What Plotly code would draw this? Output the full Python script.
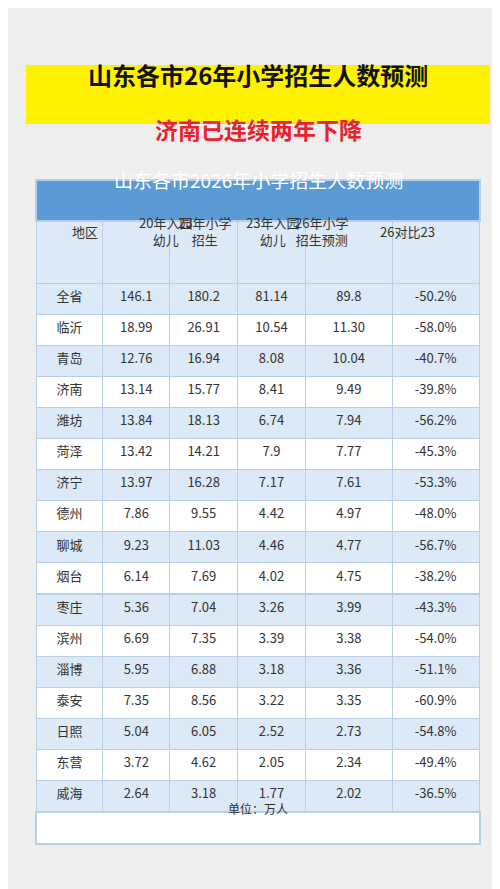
import plotly.graph_objects as go

regions = ["全省", "临沂", "青岛", "济南", "潍坊", "菏泽", "济宁", "德州", "聊城", "烟台",
           "枣庄", "滨州", "淄博", "泰安", "日照", "东营", "威海"]
kids20 = ["146.1", "18.99", "12.76", "13.14", "13.84", "13.42", "13.97", "7.86", "9.23", "6.14",
          "5.36", "6.69", "5.95", "7.35", "5.04", "3.72", "2.64"]
primary23 = ["180.2", "26.91", "16.94", "15.77", "18.13", "14.21", "16.28", "9.55", "11.03", "7.69",
             "7.04", "7.35", "6.88", "8.56", "6.05", "4.62", "3.18"]
kids23 = ["81.14", "10.54", "8.08", "8.41", "6.74", "7.9", "7.17", "4.42", "4.46", "4.02",
          "3.26", "3.39", "3.18", "3.22", "2.52", "2.05", "1.77"]
primary26 = ["89.8", "11.30", "10.04", "9.49", "7.94", "7.77", "7.61", "4.97", "4.77", "4.75",
             "3.99", "3.38", "3.36", "3.35", "2.73", "2.34", "2.02"]
change = ["-50.2%", "-58.0%", "-40.7%", "-39.8%", "-56.2%", "-45.3%", "-53.3%", "-48.0%", "-56.7%",
          "-38.2%", "-43.3%", "-54.0%", "-51.1%", "-60.9%", "-54.8%", "-49.4%", "-36.5%"]
headers = ["地区", "20年入园<br>幼儿", "23年小学<br>招生", "23年入园<br>幼儿", "26年小学<br>招生预测", "26对比23"]

W, H = 500, 889
LB, WH, BORDER = "#dce9f6", "#ffffff", "#b9cfe6"
FONT = "Noto Sans CJK SC"
SHIFT = 20  # CJK font sits low in annotations; pull them up

row_fill = [LB if i % 2 == 0 else WH for i in range(len(regions))]
cols = [regions, kids20, primary23, kids23, primary26, change]
colw = [67, 67, 68, 68, 87, 87]

fig = go.Figure(go.Table(
    domain=dict(x=[28 / W, 472 / W], y=[1 - 840 / H, 1 - 212 / H]),
    columnwidth=colw,
    header=dict(values=[""] * 6, height=63, fill_color=LB, line_color=BORDER),
    cells=dict(values=cols, height=31.1, fill_color=[row_fill] * 6,
               line_color=BORDER, align="center",
               font=dict(family=FONT, size=13, color="#333333")),
))


def py(px):
    return 1 - (px - SHIFT) / H


shapes = [
    dict(type="rect", xref="paper", yref="paper", x0=18 / W, x1=482 / W,
         y0=1 - 116 / H, y1=1 - 57 / H, fillcolor="#fff200", line_width=0, layer="below"),
    dict(type="rect", xref="paper", yref="paper", x0=28 / W, x1=472 / W,
         y0=1 - 213 / H, y1=1 - 172 / H, fillcolor="#5b9bd5", line_color=BORDER, layer="above"),
    dict(type="rect", xref="paper", yref="paper", x0=28 / W, x1=472 / W,
         y0=1 - 836 / H, y1=1 - 804 / H, fillcolor="#ffffff", line_color=BORDER, layer="above"),
]
annotations = [
    dict(text="<b>山东各市26年小学招生人数预测</b>", x=0.5, y=py(86),
         font=dict(family=FONT, size=24, color="#111111")),
    dict(text="<b>济南已连续两年下降</b>", x=0.5, y=py(141),
         font=dict(family=FONT, size=23, color="#e8212b")),
    dict(text="山东各市2026年小学招生人数预测", x=0.5, y=py(192),
         font=dict(family=FONT, size=19, color="#ffffff")),
    dict(text="单位：万人", x=0.5, y=py(820),
         font=dict(family=FONT, size=12, color="#333333")),
]
left = 28
scale = 444 / sum(colw)
for h, w in zip(headers, colw):
    cx = left + w * scale / 2
    annotations.append(dict(text=h, x=cx / W, y=py(243), align="center",
                            font=dict(family=FONT, size=13, color="#333333")))
    left += w * scale
for a in annotations:
    a.update(xref="paper", yref="paper", showarrow=False, yanchor="middle")

fig.update_layout(width=W, height=H, margin=dict(l=0, r=0, t=0, b=0),
                  paper_bgcolor="#eeeeee", shapes=shapes, annotations=annotations)
fig.write_html("out.html")
